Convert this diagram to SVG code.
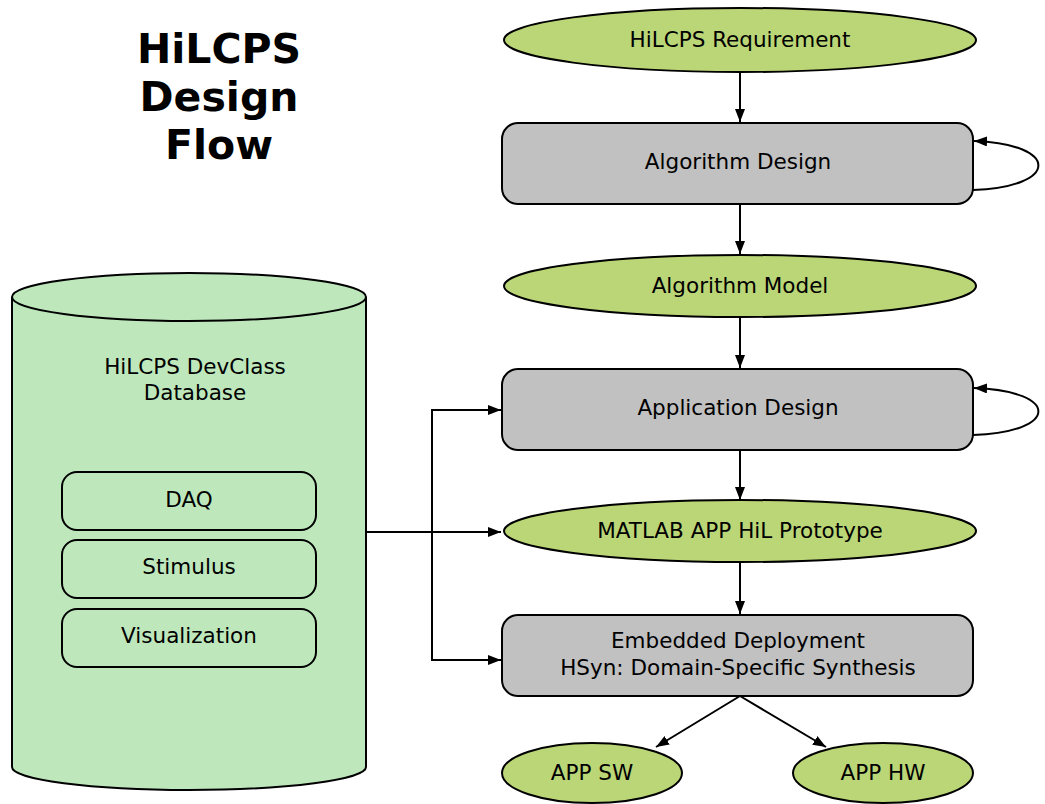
<svg xmlns="http://www.w3.org/2000/svg" width="1045" height="804" viewBox="0 0 1045 804">
<style>
text{font-family:"DejaVu Sans","Verdana",sans-serif;font-size:21.5px;fill:#000;text-anchor:middle}
.title{font-weight:bold;font-size:41px}
.ell{fill:#bbd677;stroke:#000;stroke-width:2}
.box{fill:#c0c1c0;stroke:#000;stroke-width:2}
.db{fill:#bee8bc;stroke:#000;stroke-width:2}
.sub{fill:#bee8bc;stroke:#000;stroke-width:2}
.con{fill:none;stroke:#000;stroke-width:2}
</style>
<defs>
<marker id="arr" viewBox="0 0 13 10" refX="13" refY="5" markerWidth="13" markerHeight="10" markerUnits="userSpaceOnUse" orient="auto">
<path d="M0,0 L13,5 L0,10 Z" fill="#000"/>
</marker>
</defs>
<rect width="1045" height="804" fill="#fff"/>
<g id="title">
<text class="title" x="219" y="63">HiLCPS</text>
<text class="title" x="219" y="111">Design</text>
<text class="title" x="219" y="159">Flow</text>
</g>
<g id="database">
<path class="db" d="M12,297 L12,767 A177,23 0 0 0 366,767 L366,297"/>
<ellipse class="db" cx="189" cy="297" rx="177" ry="24"/>
<text x="195" y="374">HiLCPS DevClass</text>
<text x="195" y="400">Database</text>
</g>
<g id="daq">
<rect class="sub" x="62" y="472" width="254" height="58" rx="15"/>
<text x="189" y="507">DAQ</text>
</g>
<g id="stimulus">
<rect class="sub" x="62" y="540" width="254" height="58" rx="15"/>
<text x="189" y="574">Stimulus</text>
</g>
<g id="visualization">
<rect class="sub" x="62" y="609" width="254" height="58" rx="15"/>
<text x="189" y="643">Visualization</text>
</g>
<g id="connectors">
<line class="con" x1="740" y1="72" x2="740" y2="122" marker-end="url(#arr)"/>
<line class="con" x1="740" y1="204" x2="740" y2="254" marker-end="url(#arr)"/>
<line class="con" x1="740" y1="317" x2="740" y2="368" marker-end="url(#arr)"/>
<line class="con" x1="740" y1="450" x2="740" y2="500" marker-end="url(#arr)"/>
<line class="con" x1="740" y1="562" x2="740" y2="614" marker-end="url(#arr)"/>
<line class="con" x1="740" y1="696" x2="656" y2="747" marker-end="url(#arr)"/>
<line class="con" x1="740" y1="696" x2="826" y2="747" marker-end="url(#arr)"/>
<path class="con" d="M973,190 C1060,187 1060,144 974,141" marker-end="url(#arr)"/>
<path class="con" d="M973,435 C1060,432 1060,391 974,388" marker-end="url(#arr)"/>
<line class="con" x1="366" y1="532" x2="501" y2="532" marker-end="url(#arr)"/>
<path class="con" d="M490,410 L432,410 L432,660 L490,660"/>
<line class="con" x1="432" y1="410" x2="501" y2="410" marker-end="url(#arr)"/>
<line class="con" x1="432" y1="660" x2="501" y2="660" marker-end="url(#arr)"/>
</g>
<g id="requirement">
<ellipse class="ell" cx="740" cy="40" rx="236" ry="32"/>
<text x="740" y="47">HiLCPS Requirement</text>
</g>
<g id="algorithm-design">
<rect class="box" x="502" y="123" width="471" height="81" rx="16"/>
<text x="738" y="169">Algorithm Design</text>
</g>
<g id="algorithm-model">
<ellipse class="ell" cx="740" cy="286" rx="236" ry="31"/>
<text x="740" y="293">Algorithm Model</text>
</g>
<g id="application-design">
<rect class="box" x="502" y="369" width="471" height="81" rx="16"/>
<text x="738" y="415">Application Design</text>
</g>
<g id="matlab-prototype">
<ellipse class="ell" cx="740" cy="531" rx="236" ry="31"/>
<text x="740" y="538">MATLAB APP HiL Prototype</text>
</g>
<g id="embedded-deployment">
<rect class="box" x="502" y="615" width="471" height="81" rx="16"/>
<text x="738" y="648">Embedded Deployment</text>
<text x="738" y="675">HSyn: Domain-Specific Synthesis</text>
</g>
<g id="app-sw">
<ellipse class="ell" cx="592" cy="773" rx="90" ry="30"/>
<text x="592" y="780">APP SW</text>
</g>
<g id="app-hw">
<ellipse class="ell" cx="883" cy="773" rx="90" ry="30"/>
<text x="883" y="780">APP HW</text>
</g>
</svg>
